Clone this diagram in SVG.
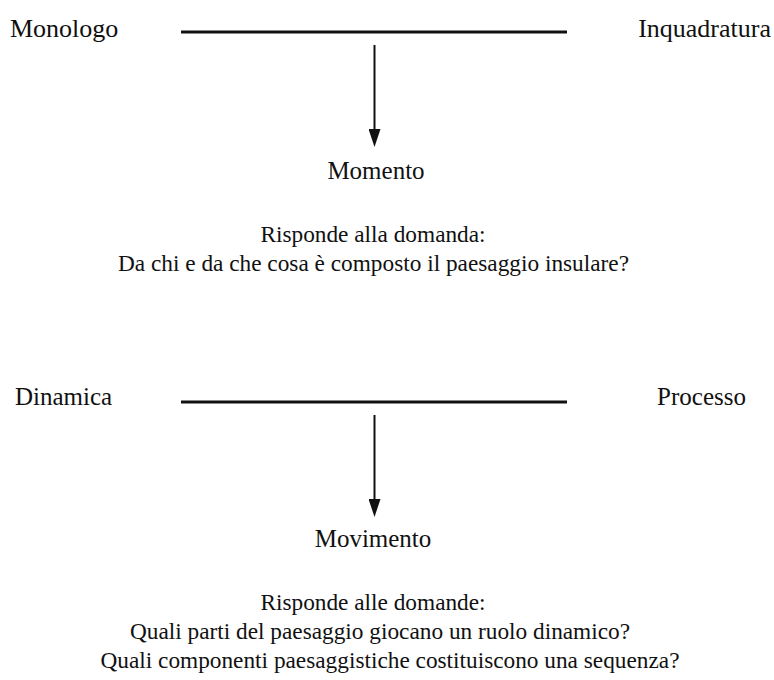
<svg xmlns="http://www.w3.org/2000/svg" width="774" height="680" viewBox="0 0 774 680">
  <style>
    text { font-family: "Liberation Serif", "Times New Roman", serif; font-size: 25px; fill: #111; }
    .s { font-size: 23.3px; }
    .c { text-anchor: middle; }
    .e { text-anchor: end; }
    .bar { stroke: #111; stroke-width: 2.8; fill: none; }
    .arr { stroke: #111; stroke-width: 2; fill: none; marker-end: url(#ah); }
  </style>
  <defs>
    <marker id="ah" markerUnits="userSpaceOnUse" viewBox="0 0 18 12" markerWidth="18" markerHeight="12" refX="11" refY="6" orient="auto">
      <path d="M0,0 L18,6 L0,12 z" fill="#111"/>
    </marker>
  </defs>
  <rect width="774" height="680" fill="#fff"/>

  <g id="connectors">
    <line class="bar" x1="181" y1="32" x2="567" y2="32"/>
    <line class="arr" x1="374.5" y1="45" x2="374.5" y2="140"/>
    <line class="bar" x1="181" y1="402" x2="567" y2="402"/>
    <line class="arr" x1="374.5" y1="415" x2="374.5" y2="510"/>
  </g>

  <g id="monologo"><text x="10" y="37" style="font-size:26px">Monologo</text></g>
  <g id="inquadratura"><text class="e" x="771" y="37" style="font-size:26px">Inquadratura</text></g>
  <g id="momento"><text class="c" x="376" y="179">Momento</text></g>
  <g id="domanda1">
    <text class="c s" x="373" y="242">Risponde alla domanda:</text>
    <text class="c s" x="373.5" y="271">Da chi e da che cosa è composto il paesaggio insulare?</text>
  </g>

  <g id="dinamica"><text x="15" y="405">Dinamica</text></g>
  <g id="processo"><text class="e" x="746" y="405">Processo</text></g>
  <g id="movimento"><text class="c" x="373" y="547">Movimento</text></g>
  <g id="domande2">
    <text class="c s" x="373" y="610">Risponde alle domande:</text>
    <text class="c s" x="380" y="639">Quali parti del paesaggio giocano un ruolo dinamico?</text>
    <text class="c s" x="390" y="668">Quali componenti paesaggistiche costituiscono una sequenza?</text>
  </g>
</svg>
